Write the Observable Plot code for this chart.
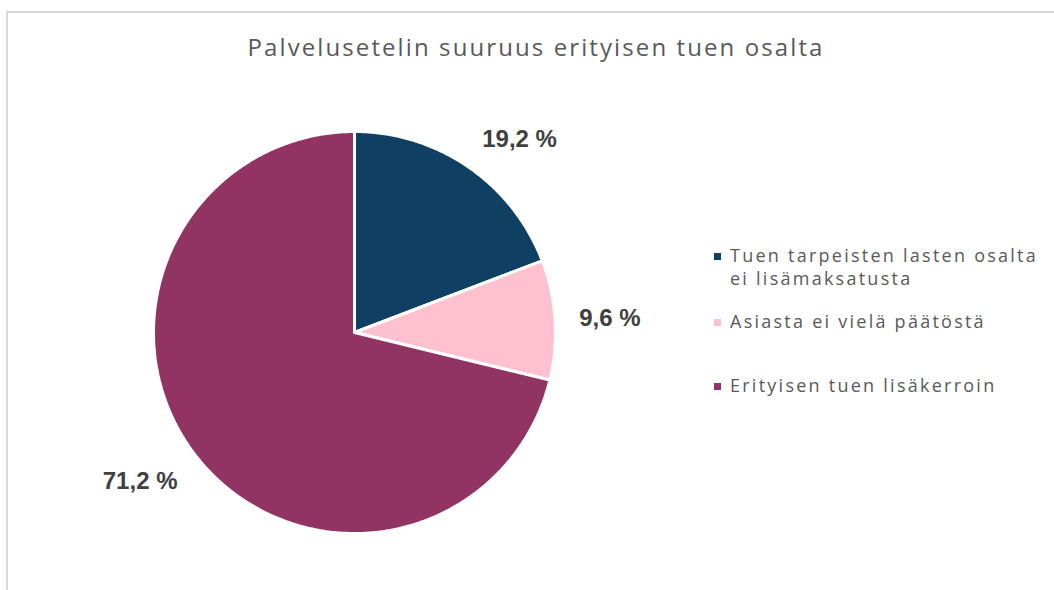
<!DOCTYPE html>
<html>
<head>
<meta charset="utf-8">
<script src="https://cdn.jsdelivr.net/npm/d3@7"></script>
<script src="https://cdn.jsdelivr.net/npm/@observablehq/plot@0.6"></script>
<style>
  html, body { margin: 0; padding: 0; background: #fff; }
  #wrap { position: relative; width: 1054px; height: 590px; overflow: hidden; }
  #frame { position: absolute; left: 6px; top: 11px; width: 1200px; height: 700px;
           border-left: 2px solid #d9d9d9; border-top: 2px solid #d9d9d9; }
  #title { position: absolute; left: 0; top: 30px; width: 1072px; text-align: center;
           font-family: "Open Sans", sans-serif; font-weight: 400; font-size: 24px; letter-spacing: 2.1px; color: #595959; }
  #chart { position: absolute; left: 0; top: 80px; }
  #legend { position: absolute; left: 714px; top: 244px; font-family: "Open Sans", sans-serif;
            font-size: 18px; color: #595959; line-height: 23px; letter-spacing: 2.25px; }
  .item { position: relative; padding-left: 16px; }
  .sw { position: absolute; left: 0; top: 9px; width: 7px; height: 7px; }
</style>
</head>
<body>
<div id="wrap">
  <div id="frame"></div>
  <div id="title"></div>
  <div id="chart"></div>
  <div id="legend"></div>
</div>
<script>
const titleText = "Palvelusetelin suuruus erityisen tuen osalta";
const categories = ["Tuen tarpeisten lasten osalta ei lisämaksatusta", "Asiasta ei vielä päätöstä", "Erityisen tuen lisäkerroin"];
const legendLines = [["Tuen tarpeisten lasten osalta", "ei lisämaksatusta"], ["Asiasta ei vielä päätöstä"], ["Erityisen tuen lisäkerroin"]];
const values = [19.2, 9.6, 71.2];
const labels = ["19,2 %", "9,6 %", "71,2 %"];
const colors = ["#0f3f63", "#ffc0cf", "#923463"];

document.getElementById("title").textContent = titleText;

// pie geometry from data (angle clockwise from 12 o'clock)
const total = d3.sum(values);
let acc = 0;
const slices = values.map((v, i) => {
  const a0 = acc / total * 2 * Math.PI;
  acc += v;
  const a1 = acc / total * 2 * Math.PI;
  return {key: categories[i], value: v, label: labels[i], a0, a1, mid: (a0 + a1) / 2};
});
const poly = [];
for (const s of slices) {
  poly.push({key: s.key, x: 0, y: 0});
  const n = Math.max(2, Math.ceil((s.a1 - s.a0) / 0.01));
  for (let k = 0; k <= n; k++) {
    const a = s.a0 + (s.a1 - s.a0) * k / n;
    poly.push({key: s.key, x: Math.sin(a), y: Math.cos(a)});
  }
  poly.push({key: s.key, x: 0, y: 0});
}
const labelR = 1.12;
const labelMarks = slices.map(s => {
  const d = {x: labelR * Math.sin(s.mid), y: labelR * Math.cos(s.mid), label: s.label};
  const sx = Math.sin(s.mid), cy = Math.cos(s.mid);
  return Plot.text([d], {
    x: "x", y: "y", text: "label",
    textAnchor: sx > 0 ? "start" : "end",
    lineAnchor: Math.abs(cy) < 0.3 ? "middle" : (cy > 0 ? "bottom" : "top"),
    fontFamily: "Liberation Sans, Arial, sans-serif", fontWeight: "bold", fontSize: 24,
    fill: "#404040"
  });
});

const chart = Plot.plot({
  width: 1054, height: 500,
  marginLeft: 153, marginRight: 499, marginTop: 51, marginBottom: 47,
  x: {domain: [-1, 1], axis: null},
  y: {domain: [-1, 1], axis: null},
  color: {domain: categories, range: colors},
  marks: [
    Plot.line(poly, {x: "x", y: "y", z: "key", fill: "key", stroke: "#fff", strokeWidth: 3, strokeLinejoin: "miter"}),
    ...labelMarks
  ]
});
document.getElementById("chart").appendChild(chart);

const legend = document.getElementById("legend");
legendLines.forEach((lines, i) => {
  const it = document.createElement("div");
  it.className = "item";
  it.style.marginBottom = i === 0 ? "20px" : "41px";
  const sw = document.createElement("div");
  sw.className = "sw";
  sw.style.background = colors[i];
  it.appendChild(sw);
  lines.forEach(l => { const d = document.createElement("div"); d.textContent = l; it.appendChild(d); });
  legend.appendChild(it);
});
</script>
</body>
</html>
